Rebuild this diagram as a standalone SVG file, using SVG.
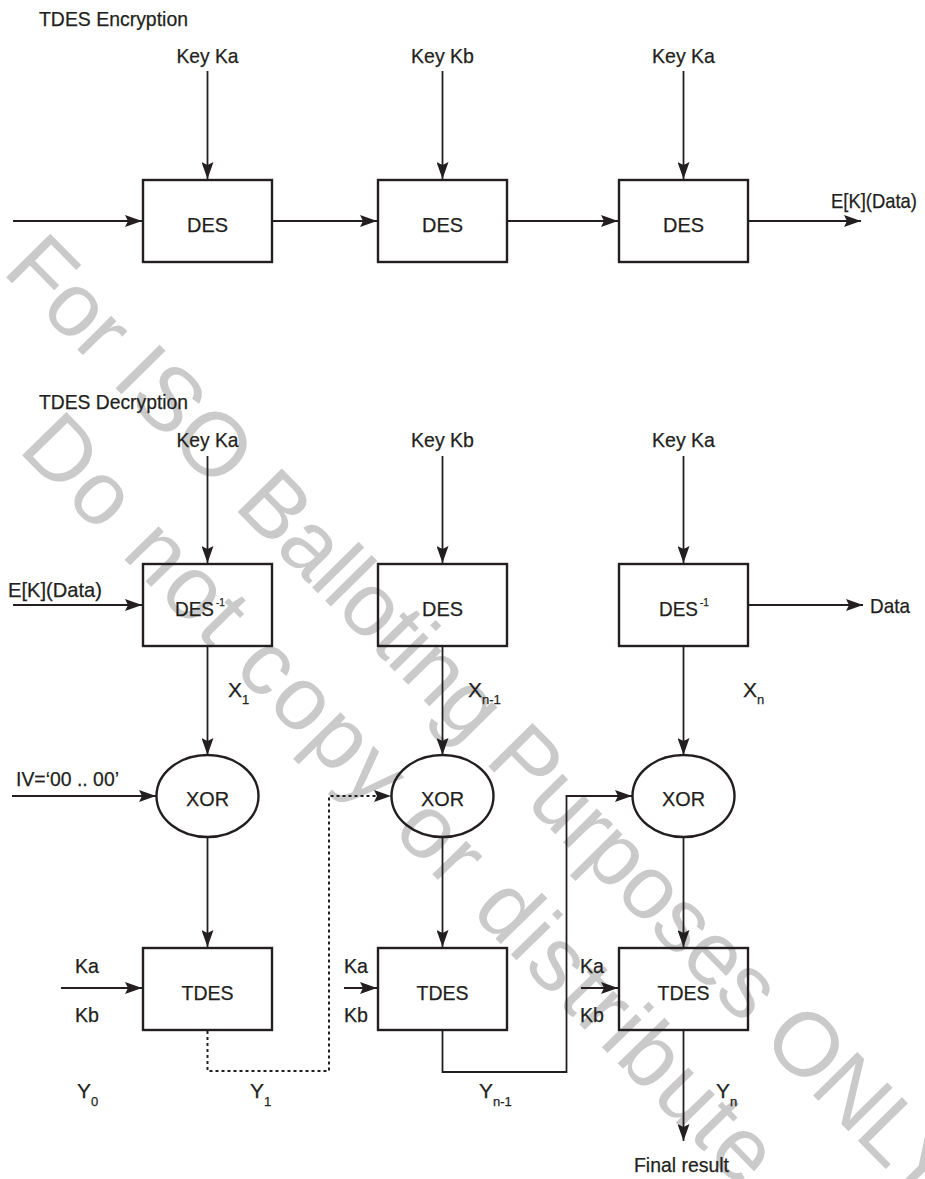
<svg xmlns="http://www.w3.org/2000/svg" width="925" height="1179" viewBox="0 0 925 1179">
<style>
.t{font-family:"Liberation Sans",Arial,Helvetica,sans-serif;font-size:21px;fill:#231f20;stroke:#231f20;stroke-width:0.25}
.m{text-anchor:middle}
.sub{font-size:13px}
.sup{font-size:10px}
.box{fill:none;stroke:#231f20;stroke-width:2.4}
.ln{fill:none;stroke:#231f20;stroke-width:1.8}
.arr{marker-end:url(#ah)}
.dot{stroke-dasharray:3 3;stroke-width:2}
.wm{font-family:"Liberation Sans",Arial,Helvetica,sans-serif;font-size:90px;fill:#cacaca}
</style>
<defs>
<marker id="ah" viewBox="0 0 17 12" refX="17" refY="6" markerWidth="17" markerHeight="12" markerUnits="userSpaceOnUse" orient="auto">
<path d="M0,0 L17,6 L0,12 L3,6 z" fill="#231f20"/>
</marker>
</defs>
<rect width="925" height="1179" fill="#fff"/>
<g id="watermark">
<text class="wm" transform="translate(1,272) rotate(45.4)" textLength="1315" lengthAdjust="spacing">For ISO Balloting Purposes ONLY</text>
<text class="wm" transform="translate(17,450) rotate(45.6)" textLength="1035" lengthAdjust="spacing">Do not copy or distribute</text>
</g>
<g id="titles">
<text class="t" x="39" y="26" textLength="149" lengthAdjust="spacingAndGlyphs">TDES Encryption</text>
<text class="t" x="39" y="409" textLength="149" lengthAdjust="spacingAndGlyphs">TDES Decryption</text>
</g>
<g id="connectors">
<line class="ln arr" x1="207.5" y1="71" x2="207.5" y2="179"/>
<line class="ln arr" x1="442.5" y1="71" x2="442.5" y2="179"/>
<line class="ln arr" x1="683.5" y1="71" x2="683.5" y2="179"/>
<line class="ln arr" x1="13" y1="221" x2="142" y2="221"/>
<line class="ln arr" x1="272" y1="221" x2="377" y2="221"/>
<line class="ln arr" x1="507" y1="221" x2="618" y2="221"/>
<line class="ln arr" x1="748" y1="221" x2="861" y2="221"/>
<line class="ln arr" x1="207.5" y1="456" x2="207.5" y2="563"/>
<line class="ln arr" x1="442.5" y1="456" x2="442.5" y2="563"/>
<line class="ln arr" x1="683.5" y1="456" x2="683.5" y2="563"/>
<line class="ln arr" x1="13" y1="605" x2="142" y2="605"/>
<line class="ln arr" x1="748" y1="605" x2="863" y2="605"/>
<line class="ln arr" x1="207.5" y1="646" x2="207.5" y2="755"/>
<line class="ln arr" x1="442.5" y1="646" x2="442.5" y2="755"/>
<line class="ln arr" x1="683.5" y1="646" x2="683.5" y2="755"/>
<line class="ln arr" x1="12" y1="796" x2="156" y2="796"/>
<line class="ln arr" x1="207.5" y1="837" x2="207.5" y2="947"/>
<line class="ln arr" x1="442.5" y1="837" x2="442.5" y2="947"/>
<line class="ln arr" x1="683.5" y1="837" x2="683.5" y2="947"/>
<line class="ln arr" x1="61" y1="988" x2="142" y2="988"/>
<line class="ln arr" x1="344" y1="988" x2="377" y2="988"/>
<line class="ln arr" x1="581" y1="988" x2="618" y2="988"/>
<path class="ln dot arr" d="M207.5,1031 V1071 H329 V796 H391"/>
<path class="ln arr" d="M442.5,1030 V1072 H566.5 V796 H632"/>
<line class="ln arr" x1="683.5" y1="1030" x2="683.5" y2="1141"/>
</g>
<g id="enc-des1"><rect class="box" x="143" y="180" width="129" height="82"/><text class="t m" x="207.5" y="232" textLength="41" lengthAdjust="spacingAndGlyphs">DES</text></g>
<g id="enc-des2"><rect class="box" x="378" y="180" width="129" height="82"/><text class="t m" x="442.5" y="232" textLength="41" lengthAdjust="spacingAndGlyphs">DES</text></g>
<g id="enc-des3"><rect class="box" x="619" y="180" width="129" height="82"/><text class="t m" x="683.5" y="232" textLength="41" lengthAdjust="spacingAndGlyphs">DES</text></g>
<g id="dec-des1"><rect class="box" x="143" y="564" width="129" height="82"/><text class="t" x="175" y="616" textLength="39" lengthAdjust="spacingAndGlyphs">DES</text><text class="t sup" x="216" y="606">-1</text></g>
<g id="dec-des2"><rect class="box" x="378" y="564" width="129" height="82"/><text class="t m" x="442.5" y="616" textLength="41" lengthAdjust="spacingAndGlyphs">DES</text></g>
<g id="dec-des3"><rect class="box" x="619" y="564" width="129" height="82"/><text class="t" x="659" y="616" textLength="39" lengthAdjust="spacingAndGlyphs">DES</text><text class="t sup" x="700" y="606">-1</text></g>
<g id="xor1"><ellipse class="box" cx="207.5" cy="796" rx="51" ry="41"/><text class="t m" x="207.5" y="806" textLength="43" lengthAdjust="spacingAndGlyphs">XOR</text></g>
<g id="xor2"><ellipse class="box" cx="442.5" cy="796" rx="51" ry="41"/><text class="t m" x="442.5" y="806" textLength="43" lengthAdjust="spacingAndGlyphs">XOR</text></g>
<g id="xor3"><ellipse class="box" cx="683.5" cy="796" rx="51" ry="41"/><text class="t m" x="683.5" y="806" textLength="43" lengthAdjust="spacingAndGlyphs">XOR</text></g>
<g id="tdes1"><rect class="box" x="143" y="948" width="129" height="82"/><text class="t m" x="207.5" y="1000" textLength="52" lengthAdjust="spacingAndGlyphs">TDES</text></g>
<g id="tdes2"><rect class="box" x="378" y="948" width="129" height="82"/><text class="t m" x="442.5" y="1000" textLength="52" lengthAdjust="spacingAndGlyphs">TDES</text></g>
<g id="tdes3"><rect class="box" x="619" y="948" width="129" height="82"/><text class="t m" x="683.5" y="1000" textLength="52" lengthAdjust="spacingAndGlyphs">TDES</text></g>
<g id="labels">
<text class="t m" x="207.5" y="63" textLength="62" lengthAdjust="spacingAndGlyphs">Key Ka</text>
<text class="t m" x="442.5" y="63" textLength="63" lengthAdjust="spacingAndGlyphs">Key Kb</text>
<text class="t m" x="683.5" y="63" textLength="63" lengthAdjust="spacingAndGlyphs">Key Ka</text>
<text class="t" x="831" y="208" font-size="19.5" textLength="86" lengthAdjust="spacingAndGlyphs">E[K](Data)</text>
<text class="t m" x="207.5" y="447" textLength="62" lengthAdjust="spacingAndGlyphs">Key Ka</text>
<text class="t m" x="442.5" y="447" textLength="63" lengthAdjust="spacingAndGlyphs">Key Kb</text>
<text class="t m" x="683.5" y="447" textLength="63" lengthAdjust="spacingAndGlyphs">Key Ka</text>
<text class="t" x="8" y="597" textLength="94" lengthAdjust="spacingAndGlyphs">E[K](Data)</text>
<text class="t" x="870" y="613" textLength="40" lengthAdjust="spacingAndGlyphs">Data</text>
<text class="t" x="228" y="697">X<tspan class="sub" dy="7">1</tspan></text>
<text class="t" x="468" y="697">X<tspan class="sub" dy="7">n-1</tspan></text>
<text class="t" x="743" y="697">X<tspan class="sub" dy="7">n</tspan></text>
<text class="t" x="16" y="786" textLength="103" lengthAdjust="spacingAndGlyphs">IV=‘00 .. 00’</text>
<text class="t" x="75" y="973" textLength="24" lengthAdjust="spacingAndGlyphs">Ka</text>
<text class="t" x="75" y="1022" textLength="24" lengthAdjust="spacingAndGlyphs">Kb</text>
<text class="t" x="344" y="973" textLength="24" lengthAdjust="spacingAndGlyphs">Ka</text>
<text class="t" x="344" y="1022" textLength="24" lengthAdjust="spacingAndGlyphs">Kb</text>
<text class="t" x="580" y="973" textLength="24" lengthAdjust="spacingAndGlyphs">Ka</text>
<text class="t" x="580" y="1022" textLength="24" lengthAdjust="spacingAndGlyphs">Kb</text>
<text class="t" x="77" y="1098">Y<tspan class="sub" dy="8">0</tspan></text>
<text class="t" x="250" y="1098">Y<tspan class="sub" dy="8">1</tspan></text>
<text class="t" x="479" y="1098">Y<tspan class="sub" dy="8">n-1</tspan></text>
<text class="t" x="716" y="1098">Y<tspan class="sub" dy="8">n</tspan></text>
<text class="t" x="634" y="1172" textLength="95" lengthAdjust="spacingAndGlyphs">Final result</text>
</g>
</svg>
